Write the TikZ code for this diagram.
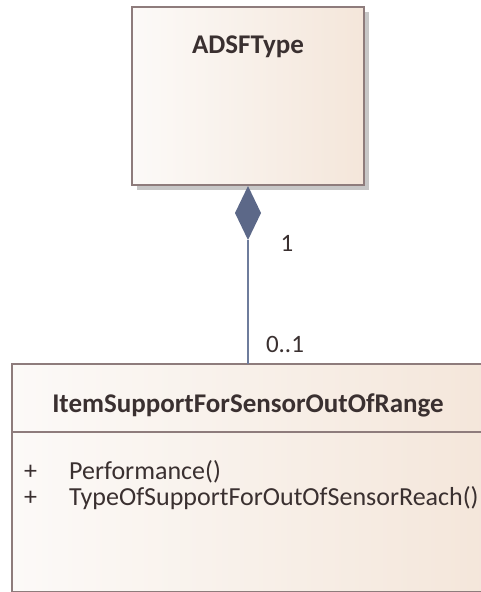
\documentclass[tikz,border=0pt]{standalone}
\usepackage{fontspec}
\setmainfont{Carlito}
\definecolor{boxleft}{HTML}{FCFAF8}
\definecolor{boxright}{HTML}{F4E6DA}
\definecolor{boxborder}{HTML}{8E7C7C}
\definecolor{txt}{HTML}{3A3030}
\definecolor{conn}{HTML}{6E7C9C}
\definecolor{diam}{HTML}{5C6888}
\tikzset{
  umlbox/.style={draw=boxborder, line width=1.2pt, left color=boxleft, right color=boxright, inner sep=0pt},
  titletext/.style={font=\bfseries\fontsize{27}{30}\selectfont, text=txt},
  optext/.style={font=\fontsize{26}{30}\selectfont, text=txt, anchor=west, inner sep=0pt},
  mult/.style={font=\fontsize{25}{28}\selectfont, text=txt},
  connline/.style={draw=conn, line width=1.5pt}
}
\begin{document}
\begin{tikzpicture}[x=1pt,y=-1pt]
\useasboundingbox (0,0) rectangle (481,592);
% top class
\fill[black!22] (137,12) rectangle (369,190);
\path[umlbox] (132,7) rectangle (364,185);
\node[titletext] (adsf) at (248,47) {ADSFType};
% bottom class
\fill[black!22] (17,369) rectangle (495,600);
\path[umlbox] (12,364) rectangle (490,592);
\coordinate (botTop) at (248,364);
\draw[boxborder, line width=1.2pt] (12,432) -- (490,432);
\node[titletext] (item) at (248,405) {ItemSupportForSensorOutOfRange};
\node[optext] (p1) at (24,472) {+};
\node[optext] (op1) at (69,472) {Performance()};
\node[optext] (p2) at (24,498) {+};
\node[optext] (op2) at (69,498) {TypeOfSupportForOutOfSensorReach()};
% connector
\coordinate (dtop) at (248,186);
\coordinate (dbot) at (248,240);
\fill[diam] (dtop) -- (261,213) -- (dbot) -- (235,213) -- cycle;
\draw[connline] (dbot) -- (botTop);
\node[mult] (m1) at (287,243) {1};
\node[mult] (m2) at (285,344) {0..1};
\end{tikzpicture}
\end{document}
